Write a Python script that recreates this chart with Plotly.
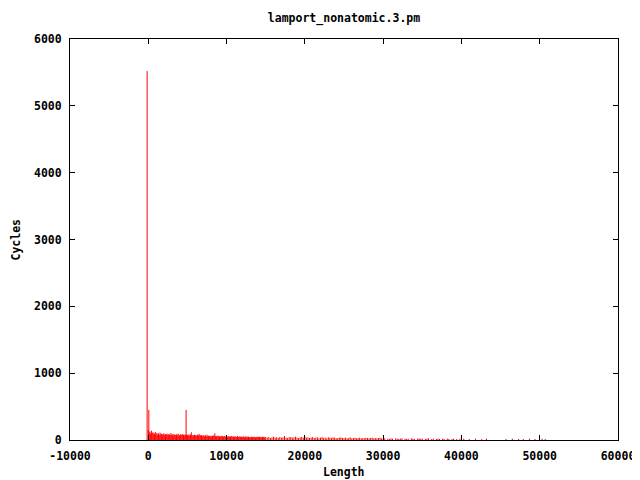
import plotly.graph_objects as go

# Dense region: lengths 0..14900 step 100
dense_start = 0
dense_step = 100
dense_cycles = [
    150, 110, 125, 95, 140, 105, 115, 100, 90, 120,
    85, 105, 80, 100, 75, 110, 85, 95, 80, 90,
    100, 75, 85, 90, 70, 95, 80, 85, 75, 105,
    75, 85, 70, 90, 80, 75, 85, 70, 95, 80,
    70, 85, 75, 80, 90, 75, 70, 85, 75, 80,
    75, 70, 85, 65, 80, 115, 70, 75, 65, 80,
    70, 75, 65, 80, 70, 90, 65, 75, 70, 65,
    60, 75, 55, 70, 60, 80, 55, 65, 60, 55,
    65, 55, 60, 70, 55, 100, 60, 55, 65, 50,
    60, 55, 50, 65, 55, 60, 50, 55, 60, 50,
    55, 50, 60, 45, 55, 50, 60, 45, 55, 50,
    50, 55, 45, 50, 60, 45, 50, 55, 45, 50,
    45, 50, 55, 40, 50, 45, 55, 40, 50, 45,
    45, 40, 50, 45, 40, 50, 45, 40, 45, 50,
    40, 45, 50, 40, 45, 40, 50, 45, 40, 45,
]

# Medium region: lengths 15000..39800 step 200
mid_start = 15000
mid_step = 200
mid_cycles = [
    40, 35, 45, 30, 40, 50, 35, 40, 30, 45, 35, 40, 60, 35, 30, 40, 45, 35, 40, 50, 35, 30, 40, 45, 35,
    50, 35, 40, 30, 35, 45, 30, 35, 40, 25, 35, 45, 30, 35, 25, 40, 35, 30, 40, 35, 25, 30, 35, 40, 30,
    30, 35, 25, 30, 40, 25, 30, 35, 25, 30, 35, 25, 30, 25, 35, 30, 25, 30, 35, 25, 30, 25, 30, 35, 25,
    20, 25, 0, 20, 15, 25, 20, 0, 25, 20, 15, 20, 25, 0, 20, 15, 20, 0, 25, 20, 15, 0, 20, 25, 15,
    20, 0, 15, 20, 25, 0, 15, 20, 0, 15, 20, 15, 0, 20, 15, 0, 20, 15, 0, 15, 20, 0, 15, 0, 20,
]

# Isolated spikes and sparse tail
spike_lengths = [-150, 70, 4830, 40300, 41000, 41800, 42600, 43200, 45700, 46500, 47300, 47900, 48700, 49400, 50300, 50700]
spike_cycles = [5520, 450, 450, 20, 15, 20, 15, 20, 15, 20, 15, 15, 20, 15, 20, 15]

lengths = [dense_start + i * dense_step for i in range(len(dense_cycles))]
lengths += [mid_start + i * mid_step for i in range(len(mid_cycles))]
lengths += spike_lengths
cycles = dense_cycles + mid_cycles + spike_cycles

xs, ys = [], []
for L, c in zip(lengths, cycles):
    if c <= 0:
        continue
    xs += [L, L, None]
    ys += [0, c, None]

fig = go.Figure()
fig.add_trace(go.Scatter(x=xs, y=ys, mode="lines", line=dict(color="#ff0000", width=1),
                         hoverinfo="skip", showlegend=False))

font = dict(family="DejaVu Sans Mono", size=11.5, color="black", weight="bold")

fig.update_layout(
    width=632, height=472,
    paper_bgcolor="white", plot_bgcolor="white",
    margin=dict(l=62, r=22, t=31, b=40, autoexpand=False),
    font=font,
    title=dict(text="lamport_nonatomic.3.pm", x=0.5, xref="paper", xanchor="center",
               y=1 - 10 / 472, yref="container", yanchor="middle", font=font),
    xaxis=dict(range=[-10000, 60000], tickvals=[-10000, 0, 10000, 20000, 30000, 40000, 50000, 60000],
               ticktext=["-10000", "0", "10000", "20000", "30000", "40000", "50000", "60000"],
               ticks="inside", ticklen=5, tickcolor="black", mirror="ticks", automargin=False,
               showline=True, linecolor="black", linewidth=1, showgrid=False, zeroline=False,
               tickfont=font, ticklabelstandoff=5),
    yaxis=dict(range=[0, 6000], tickvals=[0, 1000, 2000, 3000, 4000, 5000, 6000],
               ticks="inside", ticklen=5, tickcolor="black", mirror="ticks", automargin=False,
               showline=True, linecolor="black", linewidth=1, showgrid=False, zeroline=False,
               tickfont=font, ticklabelstandoff=5),
    annotations=[
        dict(text="Length", xref="paper", x=0.5, yref="paper", y=-32 / 401, yanchor="middle",
             showarrow=False, font=font),
        dict(text="Cycles", xref="paper", x=-55 / 548, xanchor="center", yref="paper", y=0.5,
             textangle=-90, showarrow=False, font=font),
    ],
)

fig.write_html("out.html")
